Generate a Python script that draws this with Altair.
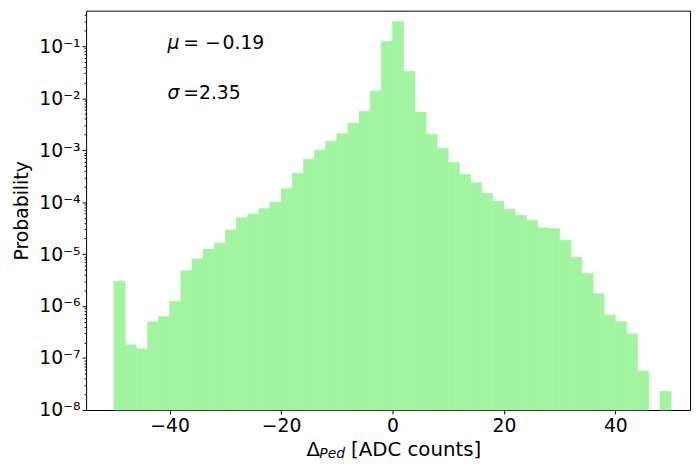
import altair as alt
import pandas as pd

# ---- data ----
bin_start = [-50, -48, -46, -44, -42, -40, -38, -36, -34, -32,
             -30, -28, -26, -24, -22, -20, -18, -16, -14, -12,
             -10, -8, -6, -4, -2, 0, 2, 4, 6, 8,
             10, 12, 14, 16, 18, 20, 22, 24, 26, 28,
             30, 32, 34, 36, 38, 40, 42, 44, 46, 48]
bin_width = 2
probability = [3.0e-6, 1.8e-7, 1.5e-7, 5.0e-7, 6.3e-7, 1.23e-6, 4.8e-6, 8.1e-6, 1.25e-5, 1.63e-5,
               2.9e-5, 5.0e-5, 5.9e-5, 7.5e-5, 1.0e-4, 1.8e-4, 3.6e-4, 6.7e-4, 1.0e-3, 1.49e-3,
               2.08e-3, 3.3e-3, 5.6e-3, 1.37e-2, 0.124, 0.30, 0.033, 5.4e-3, 2.0e-3, 1.09e-3,
               5.8e-4, 3.4e-4, 2.35e-4, 1.48e-4, 1.05e-4, 7.3e-5, 5.6e-5, 4.5e-5, 3.2e-5, 3.1e-5,
               1.85e-5, 8.7e-6, 4.3e-6, 1.74e-6, 6.7e-7, 5.0e-7, 2.9e-7, 5.6e-8, 0.0, 2.3e-8]
x_ticks = [-40, -20, 0, 20, 40]
y_major = [1e-8, 1e-7, 1e-6, 1e-5, 1e-4, 1e-3, 1e-2, 1e-1]
y_minor_mult = [2, 3, 4, 5, 6, 7, 8, 9]
ann_symbol = ["μ", "σ"]
ann_rest = ["= −\u200a0.19", "=2.35"]
ann_x = [-40.4, -40.4]
ann_y = [0.088, 0.0098]

x_domain = [-55, 53.4]
y_domain = [1e-8, 0.483]
FLOOR = 1e-8
COLOR = "#a1f5a0"
FONT = "DejaVu Sans"
FS = 19

df = pd.DataFrame({
    "start": bin_start,
    "end": [s + bin_width for s in bin_start],
    "p": probability,
    "floor": [FLOOR] * len(bin_start),
})

y_ticks = list(y_major)
for m in y_major:
    for k in y_minor_mult:
        v = k * m
        if v < y_domain[1]:
            y_ticks.append(v)
y_ticks.sort()

W, H = 611, 404
xscale = alt.Scale(domain=x_domain, nice=False, zero=False)
yscale = alt.Scale(type="log", domain=y_domain, nice=False)

is_major = "abs(log(datum.value)/LN10 - round(log(datum.value)/LN10)) < 0.001"
sup = "['⁰','¹','²','³','⁴','⁵','⁶','⁷','⁸','⁹']"

x_axis = alt.Axis(values=x_ticks, title=None, grid=False, domain=False,
                  tickSize=4, tickColor="black", labelPadding=3,
                  labelExpr="replace(datum.label, '-', '−')")
y_axis = alt.Axis(values=y_ticks, title="Probability", grid=False, domain=False,
                  tickColor="black",
                  tickSize={"condition": {"test": is_major, "value": 4}, "value": 2},
                  labelPadding=2,
                  labelExpr=f"{is_major} ? '10⁻' + {sup}[-round(log(datum.value)/LN10)] : ''",
                  titleX=-55, titleY=H / 2, titleAngle=270, titleBaseline="bottom")

bars = alt.Chart(df).transform_filter("datum.p > 0").mark_rect(
    color=COLOR, stroke=COLOR, strokeWidth=0.6).encode(
    x=alt.X("start:Q", scale=xscale, axis=x_axis),
    x2="end:Q",
    y=alt.Y("p:Q", scale=yscale, axis=y_axis),
    y2="floor:Q",
)

ann = pd.DataFrame({"sym": ann_symbol, "rest": ann_rest, "x": ann_x, "y": ann_y})
ann_sym = alt.Chart(ann).mark_text(font=FONT, fontSize=FS, fontStyle="italic", align="left",
                                   baseline="alphabetic", color="black").encode(
    x=alt.X("x:Q", scale=xscale, axis=x_axis),
    y=alt.Y("y:Q", scale=yscale, axis=y_axis),
    text="sym:N",
)
ann_txt = alt.Chart(ann).mark_text(font=FONT, fontSize=FS, align="left", dx=16,
                                   baseline="alphabetic", color="black").encode(
    x=alt.X("x:Q", scale=xscale, axis=x_axis),
    y=alt.Y("y:Q", scale=yscale, axis=y_axis),
    text="rest:N",
)

title_df = pd.DataFrame({"a": ["Δ"], "b": ["Ped"], "c": ["[ADC counts]"]})
t1 = alt.Chart(title_df).mark_text(font=FONT, fontSize=20, align="left", baseline="alphabetic",
                                   color="black").encode(
    x=alt.value(223), y=alt.value(451), text="a:N")
t2 = alt.Chart(title_df).mark_text(font=FONT, fontSize=14, fontStyle="italic", align="left",
                                   baseline="alphabetic", color="black").encode(
    x=alt.value(236), y=alt.value(453), text="b:N")
t3 = alt.Chart(title_df).mark_text(font=FONT, fontSize=20, align="left", baseline="alphabetic",
                                   color="black").encode(
    x=alt.value(268), y=alt.value(451), text="c:N")

chart = alt.layer(bars, ann_sym, ann_txt, t1, t2, t3).properties(
    width=W, height=H,
    autosize=alt.AutoSizeParams(type="none"),
    padding={"left": 79, "top": 0, "right": 2, "bottom": 60},
).configure_view(stroke="black", strokeWidth=1).configure_axis(
    labelFont=FONT, labelFontSize=FS, labelColor="black",
    titleFont=FONT, titleFontSize=FS, titleFontWeight="normal", titleColor="black",
)

chart.save("out.html", embed_options={"renderer": "svg", "actions": False})
